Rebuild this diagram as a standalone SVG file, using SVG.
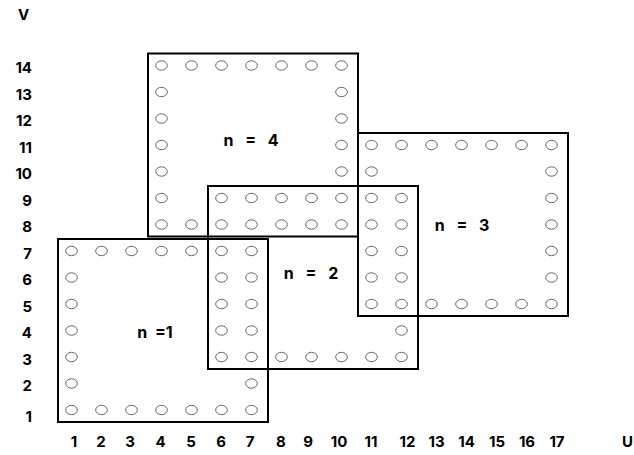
<svg xmlns="http://www.w3.org/2000/svg" xmlns:xlink="http://www.w3.org/1999/xlink" width="634" height="455" viewBox="0 0 634 455">
<style>
.blk{fill:none;stroke:#000;stroke-width:2}
.pt{fill:none;stroke:#555;stroke-width:0.9}
.ax{font-family:Inter,"Liberation Sans",Arial,sans-serif;font-weight:bold;font-size:15px;fill:#000}
.rl{text-anchor:end}
.cl{text-anchor:middle}
.lb{font-family:Inter,"Liberation Sans",Arial,sans-serif;font-weight:bold;font-size:16px;fill:#000;text-anchor:middle;word-spacing:8px}
</style>
<defs>
<ellipse id="c" class="pt" cx="0" cy="0" rx="5.8" ry="4.7"/>
</defs>
<rect width="634" height="455" fill="#fff"/>
<g id="points">
<use href="#c" x="161.5" y="65.5"/><use href="#c" x="191.5" y="65.5"/><use href="#c" x="221.5" y="65.5"/><use href="#c" x="251.5" y="65.5"/><use href="#c" x="281.5" y="65.5"/><use href="#c" x="311.5" y="65.5"/><use href="#c" x="341.5" y="65.5"/>
<use href="#c" x="161.5" y="92"/><use href="#c" x="341.5" y="92"/>
<use href="#c" x="161.5" y="118.5"/><use href="#c" x="341.5" y="118.5"/>
<use href="#c" x="161.5" y="145"/><use href="#c" x="341.5" y="145"/><use href="#c" x="371.5" y="145"/><use href="#c" x="401.5" y="145"/><use href="#c" x="431.5" y="145"/><use href="#c" x="461.5" y="145"/><use href="#c" x="491.5" y="145"/><use href="#c" x="521.5" y="145"/><use href="#c" x="551.5" y="145"/>
<use href="#c" x="161.5" y="171.5"/><use href="#c" x="341.5" y="171.5"/><use href="#c" x="371.5" y="171.5"/><use href="#c" x="551.5" y="171.5"/>
<use href="#c" x="161.5" y="198"/><use href="#c" x="221.5" y="198"/><use href="#c" x="251.5" y="198"/><use href="#c" x="281.5" y="198"/><use href="#c" x="311.5" y="198"/><use href="#c" x="341.5" y="198"/><use href="#c" x="371.5" y="198"/><use href="#c" x="401.5" y="198"/><use href="#c" x="551.5" y="198"/>
<use href="#c" x="161.5" y="224.5"/><use href="#c" x="191.5" y="224.5"/><use href="#c" x="221.5" y="224.5"/><use href="#c" x="251.5" y="224.5"/><use href="#c" x="281.5" y="224.5"/><use href="#c" x="311.5" y="224.5"/><use href="#c" x="341.5" y="224.5"/><use href="#c" x="371.5" y="224.5"/><use href="#c" x="401.5" y="224.5"/><use href="#c" x="551.5" y="224.5"/>
<use href="#c" x="71.5" y="251"/><use href="#c" x="101.5" y="251"/><use href="#c" x="131.5" y="251"/><use href="#c" x="161.5" y="251"/><use href="#c" x="191.5" y="251"/><use href="#c" x="221.5" y="251"/><use href="#c" x="251.5" y="251"/><use href="#c" x="371.5" y="251"/><use href="#c" x="401.5" y="251"/><use href="#c" x="551.5" y="251"/>
<use href="#c" x="71.5" y="277.5"/><use href="#c" x="221.5" y="277.5"/><use href="#c" x="251.5" y="277.5"/><use href="#c" x="371.5" y="277.5"/><use href="#c" x="401.5" y="277.5"/><use href="#c" x="551.5" y="277.5"/>
<use href="#c" x="71.5" y="304"/><use href="#c" x="221.5" y="304"/><use href="#c" x="251.5" y="304"/><use href="#c" x="371.5" y="304"/><use href="#c" x="401.5" y="304"/><use href="#c" x="431.5" y="304"/><use href="#c" x="461.5" y="304"/><use href="#c" x="491.5" y="304"/><use href="#c" x="521.5" y="304"/><use href="#c" x="551.5" y="304"/>
<use href="#c" x="71.5" y="330.5"/><use href="#c" x="221.5" y="330.5"/><use href="#c" x="251.5" y="330.5"/><use href="#c" x="401.5" y="330.5"/>
<use href="#c" x="71.5" y="357"/><use href="#c" x="221.5" y="357"/><use href="#c" x="251.5" y="357"/><use href="#c" x="281.5" y="357"/><use href="#c" x="311.5" y="357"/><use href="#c" x="341.5" y="357"/><use href="#c" x="371.5" y="357"/><use href="#c" x="401.5" y="357"/>
<use href="#c" x="71.5" y="383.5"/><use href="#c" x="251.5" y="383.5"/>
<use href="#c" x="71.5" y="410"/><use href="#c" x="101.5" y="410"/><use href="#c" x="131.5" y="410"/><use href="#c" x="161.5" y="410"/><use href="#c" x="191.5" y="410"/><use href="#c" x="221.5" y="410"/><use href="#c" x="251.5" y="410"/>
</g>
<g id="block-n1"><rect class="blk" x="58" y="239" width="210" height="183"/><text class="lb" x="155" y="338" style="word-spacing:4px">n =1</text></g>
<g id="block-n2"><rect class="blk" x="208" y="186" width="210" height="183"/><text class="lb" x="311" y="279">n = 2</text></g>
<g id="block-n3"><rect class="blk" x="358" y="133" width="210" height="183"/><text class="lb" x="462" y="231">n = 3</text></g>
<g id="block-n4"><rect class="blk" x="148" y="53.5" width="210" height="183"/><text class="lb" x="251" y="146">n = 4</text></g>
<g id="axes">
<text class="ax cl" x="23.5" y="20">V</text>
<text class="ax cl" x="627.5" y="447">U</text>
<text class="ax rl" x="32" y="73">14</text>
<text class="ax rl" x="32" y="99.5">13</text>
<text class="ax rl" x="32" y="126">12</text>
<text class="ax rl" x="32" y="152.5">11</text>
<text class="ax rl" x="32" y="179">10</text>
<text class="ax rl" x="32" y="205.5">9</text>
<text class="ax rl" x="32" y="232">8</text>
<text class="ax rl" x="32" y="258.5">7</text>
<text class="ax rl" x="32" y="285">6</text>
<text class="ax rl" x="32" y="311.5">5</text>
<text class="ax rl" x="32" y="338">4</text>
<text class="ax rl" x="32" y="364.5">3</text>
<text class="ax rl" x="32" y="391">2</text>
<text class="ax rl" x="32" y="422">1</text>
<text class="ax cl" x="74" y="447">1</text>
<text class="ax cl" x="101" y="447">2</text>
<text class="ax cl" x="130" y="447">3</text>
<text class="ax cl" x="160.5" y="447">4</text>
<text class="ax cl" x="191" y="447">5</text>
<text class="ax cl" x="221" y="447">6</text>
<text class="ax cl" x="250" y="447">7</text>
<text class="ax cl" x="281" y="447">8</text>
<text class="ax cl" x="308" y="447">9</text>
<text class="ax cl" x="339" y="447">10</text>
<text class="ax cl" x="371" y="447">11</text>
<text class="ax cl" x="407.5" y="447">12</text>
<text class="ax cl" x="436.5" y="447">13</text>
<text class="ax cl" x="466.5" y="447">14</text>
<text class="ax cl" x="497" y="447">15</text>
<text class="ax cl" x="527" y="447">16</text>
<text class="ax cl" x="557" y="447">17</text>
</g>
</svg>
